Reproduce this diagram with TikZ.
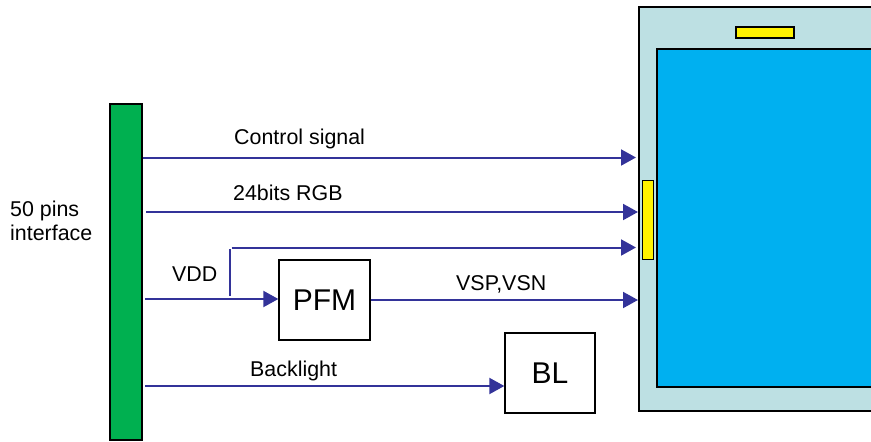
\documentclass[tikz,border=0pt]{standalone}
\usepackage{fontspec}
\setmainfont{Liberation Sans}
\usetikzlibrary{arrows.meta,positioning}
\definecolor{sigblue}{HTML}{333399}
\definecolor{pingreen}{HTML}{00B050}
\definecolor{framegrey}{HTML}{BDE0E3}
\definecolor{lcdblue}{HTML}{00B0F0}
\tikzset{
  sig/.style={draw=sigblue, line width=2pt},
  sigarrow/.style={sig, -{Triangle[length=15pt,width=16pt]}},
  block/.style={draw, line width=1.3pt, fill=white, minimum width=91pt, minimum height=80pt, inner sep=0pt, font=\fontsize{30}{34}\selectfont},
  lbl/.style={anchor=base west, inner sep=0pt, font=\fontsize{21.4}{25}\selectfont}
}
\begin{document}
\begin{tikzpicture}[x=1pt, y=-1pt]
\useasboundingbox (0,0) rectangle (871,442);
\clip (0,0) rectangle (871,442);

\draw[line width=1.3pt, fill=framegrey] (639,7) rectangle (890,411);
\draw[line width=1.3pt, fill=lcdblue] (657,49) rectangle (890,387);
\draw[line width=1.3pt, fill=yellow] (736,27) rectangle (794,38);
\node[draw, line width=1.3pt, fill=yellow, minimum width=11pt, minimum height=79pt, inner sep=0pt] (fpc) at (648,220) {};

\node[draw, line width=1.3pt, fill=pingreen, minimum width=32pt, minimum height=336pt, inner sep=0pt] (bar) at (126,272) {};
\node[block] (pfm) at (324.5,300) {PFM};
\node[block, minimum width=90pt] (bl) at (550,373) {BL};

\coordinate (ctrlend) at (636,157.5);
\coordinate (rgbstart) at (146,212);
\coordinate (rgbend) at (638,212);
\coordinate (vddstart) at (145,299);
\coordinate (tap) at (229.5,299);
\coordinate (tapend) at (636,247.5);
\coordinate (vspend) at (638,300);
\coordinate (blstart) at (145,386);

\draw[sigarrow] (bar.east |- ctrlend) -- (ctrlend);
\draw[sigarrow] (rgbstart) -- (rgbend);
\draw[sigarrow] (vddstart) -- (pfm.west |- vddstart);
\draw[sig] ([yshift=3pt]tap) -- ([yshift=-1pt]tap |- tapend);
\draw[sigarrow] ([xshift=2pt]tap |- tapend) -- (tapend);
\draw[sigarrow] (pfm.east |- vspend) -- (vspend);
\draw[sigarrow] (blstart) -- (bl.west |- blstart);

\node[lbl] (ctrllbl) at (234,144) {Control signal};
\node[lbl] (rgblbl) at (233,200) {24bits RGB};
\node[lbl] (vddlbl) at (172,281.5) {VDD};
\node[lbl] (vsplbl) at (456,290) {VSP,VSN};
\node[lbl] (bllbl) at (250,376) {Backlight};
\node[lbl] (pinslbl) at (10,216) {50 pins};
\node[lbl] (iflbl) at (10,240) {interface};
\end{tikzpicture}
\end{document}
